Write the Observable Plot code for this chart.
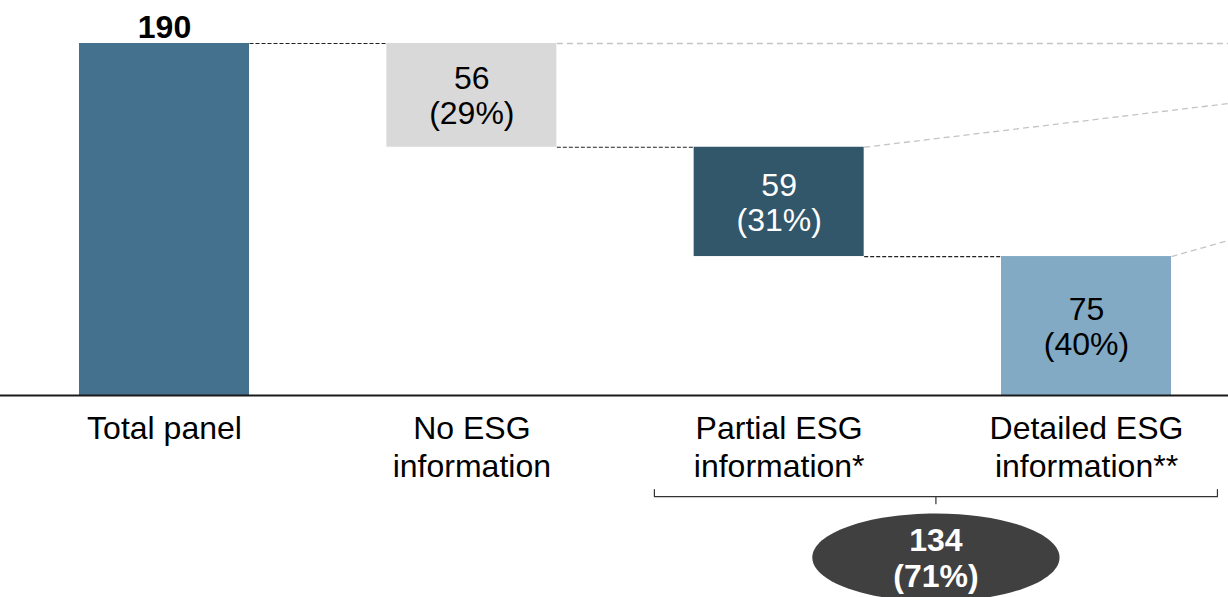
<!DOCTYPE html>
<html>
<head>
<meta charset="utf-8">
<script src="https://cdn.jsdelivr.net/npm/d3@7"></script>
<script src="https://cdn.jsdelivr.net/npm/@observablehq/plot@0.6"></script>
<style>
  html, body { margin: 0; padding: 0; background: #fff; }
  #chart svg { display: block; }
</style>
</head>
<body>
<div id="chart"></div>
<script>
// Panel breakdown by level of ESG disclosure
const categories = ["Total panel", "No ESG\ninformation", "Partial ESG\ninformation*", "Detailed ESG\ninformation**"];
const values = [190, 56, 59, 75];
const shares = [null, 29, 31, 40];          // % of total panel
const barColors = ["#44718d", "#d9d9d9", "#32566a", "#82aac4"];
const labelColors = ["#000000", "#000000", "#ffffff", "#000000"];
const subtotalShare = 71;                    // partial + detailed, % of panel
const leaderEnds = [190, 157.6, 83.7];       // levels where the grey leaders leave the frame

// Waterfall geometry: the total stands on zero, each group hangs below the previous one
let running = 0;
const rows = categories.map((name, i) => {
  let y1, y2;
  if (i === 0) { y1 = 0; y2 = values[0]; running = values[0]; }
  else { y2 = running; y1 = running - values[i]; running = y1; }
  return {i, name, value: values[i], share: shares[i], y1, y2, fill: barColors[i], ink: labelColors[i]};
});
const subtotal = values[2] + values[3];

const hw = 0.2766;                       // half bar width in category units
const xMin = -0.5336, xMax = 3.462;

const connectors = rows.slice(1).map(d => ({x1: d.i - 1 + hw, x2: d.i - hw, y: d.y2}));
const leaders = rows.slice(1).map((d, k) => ({x1: d.i + hw, y1: d.y2, x2: xMax, y2: leaderEnds[k]}));

// Bracket under the two disclosing groups
const bL = 2 - 0.406, bR = 3 + 0.426, bY = -54.6, bHook = 3.8, bMid = (bL + bR) / 2;
const bracket = [
  {x: bL, y: bY + bHook}, {x: bL, y: bY}, {x: bMid, y: bY}, {x: bMid, y: bY - bHook},
  {x: bMid, y: bY}, {x: bR, y: bY}, {x: bR, y: bY + bHook}
];
const badge = [{x: bMid, y: -87.4}];

// Ellipse symbol for the subtotal badge
const ratio = 2.81;
const ellipse = {
  draw(context, size) {
    const ry = Math.sqrt(size / Math.PI), rx = ry * ratio, k = 0.5522847498;
    context.moveTo(rx, 0);
    context.bezierCurveTo(rx, ry * k, rx * k, ry, 0, ry);
    context.bezierCurveTo(-rx * k, ry, -rx, ry * k, -rx, 0);
    context.bezierCurveTo(-rx, -ry * k, -rx * k, -ry, 0, -ry);
    context.bezierCurveTo(rx * k, -ry, rx, -ry * k, rx, 0);
    context.closePath();
  }
};

const font = "'Liberation Sans', Arial, sans-serif";

const chart = Plot.plot({
  width: 1228,
  height: 597,
  margin: 0,
  style: {fontFamily: font, background: "#fff", overflow: "visible"},
  x: {type: "linear", domain: [xMin, xMax], range: [0, 1228], axis: null},
  y: {type: "linear", domain: [0, 190], range: [395, 43], axis: null},
  marks: [
    // grey leader lines running off to the right
    Plot.link(leaders, {x1: "x1", y1: "y1", x2: "x2", y2: "y2", stroke: "#c4c4c4", strokeWidth: 1.3, strokeDasharray: "6,4"}),
    // bars
    Plot.rect(rows, {x1: d => d.i - hw, x2: d => d.i + hw, y1: "y1", y2: "y2", fill: "fill"}),
    // black connectors between consecutive bars
    Plot.link(connectors, {x1: "x1", x2: "x2", y1: "y", y2: "y", stroke: "#222", strokeWidth: 1.2, strokeDasharray: "4,2"}),
    // baseline
    Plot.ruleY([0], {stroke: "#1a1a1a", strokeWidth: 2}),
    // total value above the first bar
    Plot.text(rows.slice(0, 1), {x: "i", y: "y2", text: d => String(d.value), fontWeight: "bold", fontSize: 32, lineAnchor: "bottom", dy: -6, fill: "#000"}),
    // values inside the group bars
    Plot.text(rows.slice(1), {x: "i", y: d => (d.y1 + d.y2) / 2, text: d => `${d.value}\n(${d.share}%)`, fontSize: 32, lineHeight: 1.1, fill: "ink", lineAnchor: "middle"}),
    // category labels
    Plot.text(rows, {x: "i", y: 0, text: "name", fontSize: 32, lineHeight: 1.19, lineAnchor: "top", dy: 16, fill: "#000"}),
    // bracket and subtotal badge
    Plot.line(bracket, {x: "x", y: "y", stroke: "#333", strokeWidth: 1.2}),
    Plot.dot(badge, {x: "x", y: "y", r: 44, symbol: ellipse, fill: "#404040", stroke: "none"}),
    Plot.text(badge, {x: "x", y: "y", text: () => `${subtotal}\n(${subtotalShare}%)`, fontSize: 32, fontWeight: "bold", fill: "#fff", lineAnchor: "middle", lineHeight: 1.13})
  ]
});

document.getElementById("chart").appendChild(chart);
</script>
</body>
</html>
